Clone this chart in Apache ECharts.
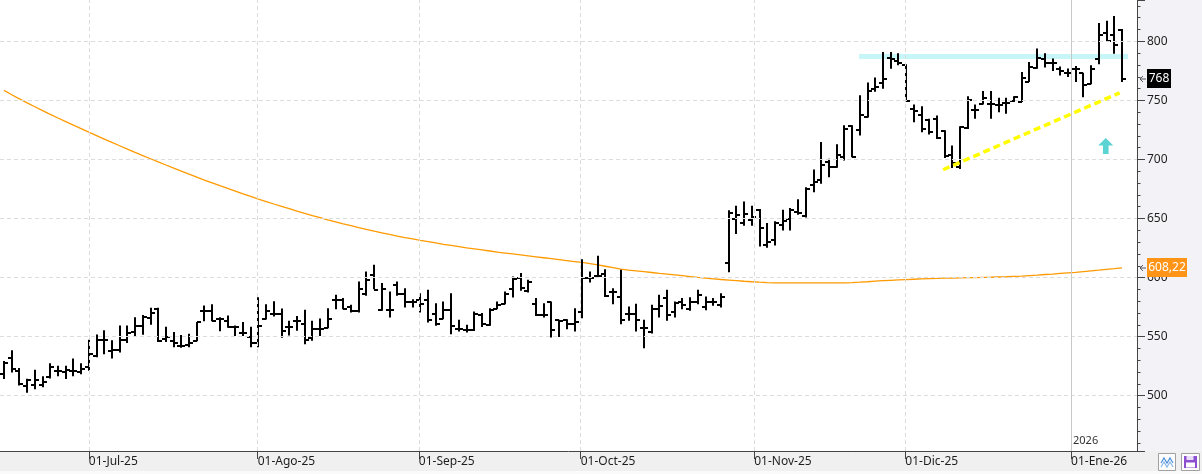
<!DOCTYPE html>
<html>
<head>
<meta charset="utf-8">
<script src="https://cdn.jsdelivr.net/npm/echarts@6.0.0/dist/echarts.min.js"></script>
<style>
  html, body { margin: 0; padding: 0; background: #f0f0f0; }
  #chart { width: 1202px; height: 474px; }
</style>
</head>
<body>
<div id="chart"></div>
<script>
// sesiones (indice de barra) donde caen las marcas de mes del eje X
const monthTicks = [11.0, 32.9, 53.8, 74.8, 97.3, 116.9, 138.4];
const monthLabels = ["01-Jul-25", "01-Ago-25", "01-Sep-25", "01-Oct-25", "01-Nov-25", "01-Dic-25", "01-Ene-26"];
const yearLabel = "2026";

// OHLC por sesion
const open = [
  518, 532, 521, 508, 509, 509, 515.5, 521, 520, 521,
  520, 524, 534, 547, 538, 539, 547, 554, 559, 566,
  573.5, 548, 546, 542.5, 543, 546.5, 572, 572, 565, 563.5,
  558, 553.5, 549.5, 544.5, 565, 569.5, 569, 558.5, 563, 561,
  549, 556.7, 557.6, 580.7, 581.3, 575, 571.4, 586.4, 602.5, 572.3,
  572.3, 593.5, 586.4, 579.3, 580.7, 581.3, 568.9, 565.2, 572.3, 556.7,
  555.3, 555.9, 568, 559.6, 573.7, 577.9, 590.6, 600, 589, 577.9,
  568, 579, 563.8, 563.8, 561, 571, 600, 601, 603, 587.8,
  583.6, 568.9, 569.4, 557.6, 553.9, 573.7, 583, 570.9, 579.3, 573.7,
  579.3, 575.1, 579.3, 576.5, 612, 650, 645.8, 649, 657.6, 628,
  631.7, 644.4, 650, 655.6, 652, 678.4, 683, 698, 693.4, 702.4,
  728.5, 725, 735.9, 759.5, 765, 785.8, 783, 780.2, 742.5, 738,
  733, 734, 724, 703.7, 693.7, 726.3, 741.9, 747, 747, 746,
  748, 749.5, 749, 766, 777.3, 785, 781.6, 776.5, 773, 776.5,
  773, 764, 785, 807, 805, 810
];
const high = [
  529, 538, 523, 514, 521.5, 516, 527, 525, 525, 531,
  527, 547, 551.5, 555, 546.5, 559, 559, 566, 568, 574,
  574, 558, 553.5, 551, 552, 562, 576, 577, 566, 567.5,
  559, 562, 558, 583, 577, 579.5, 573.5, 563, 567, 572.3,
  563, 565, 573.7, 585, 582.2, 576.5, 596.3, 604.8, 610.4, 594.9,
  587.8, 596.3, 590.6, 581.3, 586.4, 589.2, 577.9, 579.3, 586.4, 563.8,
  559.6, 570.9, 569.5, 573.7, 579.3, 587.8, 600.5, 603.4, 597.7, 582.2,
  577.9, 579.3, 563.8, 564.4, 573.7, 615, 604.8, 618, 606.7, 590.6,
  606.2, 575.1, 577.4, 563.8, 576.5, 585, 589.2, 579.3, 582.2, 583,
  589.2, 583.6, 582.2, 586.4, 656.5, 660.4, 664, 660.4, 657.6, 645.8,
  647.2, 657, 658.4, 666, 676, 691, 714.3, 700.2, 712.4, 728.5,
  728.5, 754, 764.8, 769, 790.6, 790.6, 789.5, 780.2, 746.2, 744.7,
  734, 736.8, 724.4, 711.3, 727.7, 753.2, 746.2, 757.5, 757.5, 751.8,
  751.8, 753.2, 773.6, 782.1, 793.5, 789.5, 785, 778.2, 776.5, 778.7,
  773, 779.3, 815, 817, 821, 810
];
const low = [
  514.5, 520, 509, 503, 506, 507.5, 515, 517, 514.5, 517,
  518.5, 521.5, 533, 535.5, 532, 537, 545, 551, 552, 560.5,
  546, 546, 541.5, 541, 541.5, 546.5, 563.5, 563.5, 555, 558,
  551, 551, 541.5, 541.5, 565, 567.5, 549.5, 551.5, 555.5, 544,
  547, 551, 557.6, 573.7, 573.7, 570.9, 570.9, 585, 590.6, 572.3,
  566.6, 585, 575.1, 575.1, 570.9, 562.4, 559.6, 565.2, 552.5, 554.8,
  553.9, 555.3, 558.7, 559.6, 573.7, 577.9, 583.6, 589.2, 587.8, 568,
  566.6, 549.7, 550.2, 556.7, 554.8, 566, 596.3, 600, 584, 577.9,
  561, 563.8, 554.8, 540.6, 553, 566.6, 563.8, 566.6, 573.7, 572.3,
  577.9, 572.8, 576.5, 575.1, 605, 637.4, 644.4, 644.4, 626.7, 625.6,
  627.5, 640.2, 640.2, 653.6, 651.4, 672.7, 679.8, 685.4, 693.4, 699.6,
  702.4, 720.8, 735.9, 757.7, 760.3, 777.3, 780.2, 749.8, 732, 723.5,
  721.5, 717.8, 701.7, 693.2, 692.3, 726.3, 734.8, 747, 734.8, 740.5,
  739.1, 749, 749, 766, 777.3, 778.2, 775.3, 771.6, 770.2, 766,
  753, 764, 781, 800, 790, 766
];
const close = [
  528, 523, 509.5, 513, 513, 512, 524, 521, 522, 521,
  523, 535, 547, 547, 538.5, 547, 553, 559, 567, 570,
  546.5, 549.5, 545, 542.5, 544.5, 562, 572, 563.5, 565, 558.5,
  558, 553.5, 544.5, 559, 572, 569.5, 555, 558.5, 563, 547,
  556.7, 556.7, 565.2, 580.7, 573.7, 571.4, 590.6, 598.3, 589.8, 590.6,
  572.3, 586.4, 579.3, 579.3, 577.9, 563.8, 561, 572.8, 558.7, 556.7,
  555.3, 568.9, 561, 572.3, 576.5, 586.4, 599.1, 591.5, 596.3, 568,
  568, 555.3, 563.3, 561, 562.4, 600, 600, 601, 584, 587.8,
  563.8, 568.9, 564.4, 557.6, 573.7, 575.7, 568, 578.5, 576.5, 579.3,
  585, 579.3, 579.3, 583.6, 655, 653, 654.2, 651.5, 641.6, 630,
  645.8, 648, 657, 654.8, 675, 681.2, 695.4, 693.4, 704, 725.7,
  702.4, 737.8, 758, 761.3, 768, 785, 781.6, 749.8, 741.3, 726,
  723.5, 718, 703, 697, 727.7, 750.4, 741.9, 751.8, 747, 746,
  748, 753, 768.8, 778.7, 785.8, 781.6, 781.6, 774.5, 773, 776.5,
  763, 776.5, 805, 800.5, 797, 768
];

// media movil (linea naranja)
const ma = [
  758.5, 754.8, 751.3, 747.9, 744.6, 741.3, 738.2, 735.1, 732.1, 729.1,
  726.1, 723.1, 720.2, 717.3, 714.4, 711.6, 708.8, 706.0, 703.3, 700.6,
  697.9, 695.3, 692.7, 690.1, 687.6, 685.1, 682.6, 680.2, 677.8, 675.5,
  673.2, 670.9, 668.7, 666.5, 664.4, 662.3, 660.3, 658.3, 656.3, 654.4,
  652.5, 650.7, 648.9, 647.2, 645.5, 643.9, 642.3, 640.8, 639.3, 637.9,
  636.5, 635.2, 633.9, 632.7, 631.5, 630.4, 629.3, 628.2, 627.2, 626.2,
  625.2, 624.3, 623.4, 622.5, 621.6, 620.8, 620.0, 619.2, 618.4, 617.6,
  616.8, 616.0, 615.2, 614.4, 613.6, 612.8, 611.8, 610.7, 609.6, 608.4,
  607.2, 606.4, 605.7, 605.0, 604.3, 603.6, 603.0, 602.3, 601.6, 600.9,
  600.2, 599.6, 599.0, 598.4, 597.9, 597.4, 596.9, 596.5, 596.1, 595.8,
  595.6, 595.5, 595.5, 595.5, 595.5, 595.5, 595.5, 595.5, 595.5, 595.6,
  595.8, 596.1, 596.5, 597.0, 597.4, 597.7, 598.0, 598.3, 598.6, 598.9,
  599.2, 599.3, 599.5, 599.6, 599.8, 599.9, 600.0, 600.2, 600.3, 600.5,
  600.7, 601.0, 601.3, 601.7, 602.1, 602.6, 603.0, 603.5, 604.0, 604.5,
  605.1, 605.7, 606.3, 607.0, 607.6, 608.22
];

// dibujos del analista: soporte (amarillo), resistencia (cian) y flecha
const trendLine = [[121.8, 691.3], [144.7, 756.4]];
const resistanceLine = [[110.9, 787.2], [145.8, 787.2]];
const signalArrow = [[142.9, 711.5]];

const chart = echarts.init(document.getElementById("chart"));

const ohlcData = open.map((o, i) => [i, o, high[i], low[i], close[i]]);
const maData = ma.map((v, i) => [i, v]);

function renderBar(params, api) {
  const i = api.value(0);
  const x = Math.round(api.coord([i, 0])[0]);
  const yo = Math.round(api.coord([i, api.value(1)])[1]);
  const yh = api.coord([i, api.value(2)])[1];
  const yl = api.coord([i, api.value(3)])[1];
  const yc = Math.round(api.coord([i, api.value(4)])[1]);
  const st = { stroke: "#000", lineWidth: 2 };
  return {
    type: "group",
    children: [
      { type: "line", shape: { x1: x, y1: yh - 0.5, x2: x, y2: yl + 0.5 }, style: st },
      { type: "line", shape: { x1: x - 4, y1: yo, x2: x, y2: yo }, style: st },
      { type: "line", shape: { x1: x, y1: yc, x2: x + 4, y2: yc }, style: st }
    ]
  };
}

const font = "Noto Sans";

chart.setOption({
  animation: false,
  backgroundColor: "#f0f0f0",
  grid: {
    left: 0, right: 65, top: 0, bottom: 23,
    show: true, backgroundColor: "#ffffff", borderWidth: 0,
    outerBoundsMode: "none"
  },
  xAxis: {
    type: "value",
    min: -0.52,
    max: 146.95,
    z: 5,
    axisLine: { show: true, onZero: false, lineStyle: { color: "#444", width: 1 } },
    axisTick: { show: true, customValues: monthTicks, length: 8, lineStyle: { color: "#444" } },
    axisLabel: {
      customValues: monthTicks,
      formatter: v => monthLabels[monthTicks.indexOf(v)] || "",
      align: "left",
      margin: 5,
      color: "#1e1e1e",
      fontSize: 12,
      fontFamily: font,
      hideOverlap: false
    },
    splitLine: { show: false }
  },
  yAxis: {
    type: "value",
    position: "right",
    min: 453.2,
    max: 835,
    splitNumber: 8,
    z: 5,
    axisLine: { show: true, onZero: false, lineStyle: { color: "#444", width: 1 } },
    axisTick: { show: true, length: 8, lineStyle: { color: "#444" } },
    minorTick: { show: true, splitNumber: 5, length: 3.5, lineStyle: { color: "#444" } },
    axisLabel: {
      color: "#1e1e1e",
      fontSize: 12,
      fontFamily: font,
      margin: 10,
      showMinLabel: false,
      showMaxLabel: false
    },
    splitLine: {
      show: true,
      showMinLine: false,
      showMaxLine: false,
      lineStyle: { color: "#dcdcdc", type: [4, 3], width: 1 }
    }
  },
  series: [
    {
      // rejilla vertical de meses y separador de año
      type: "line",
      data: [],
      z: 1,
      silent: true,
      markLine: {
        silent: true,
        symbol: "none",
        label: { show: false },
        animation: false,
        data: monthTicks.slice(0, 6).map(v => ({
          xAxis: v,
          lineStyle: { color: "#dcdcdc", type: [4, 3], width: 1 }
        })).concat([{
          xAxis: monthTicks[6],
          lineStyle: { color: "#c8c8c8", type: "solid", width: 1 }
        }])
      }
    },
    {
      type: "line",
      data: resistanceLine,
      z: 2,
      silent: true,
      symbol: "none",
      lineStyle: { color: "#c6f6f8", width: 5 }
    },
    {
      type: "line",
      data: maData,
      z: 3,
      symbol: "none",
      silent: true,
      lineStyle: { color: "#ff9a00", width: 1.3 }
    },
    {
      type: "custom",
      data: ohlcData,
      z: 4,
      renderItem: renderBar,
      encode: { x: 0, y: [1, 2, 3, 4] }
    },
    {
      type: "line",
      data: trendLine,
      z: 6,
      silent: true,
      symbol: "none",
      lineStyle: { color: "#ffff00", width: 3.5, type: [7, 4] }
    },
    {
      type: "scatter",
      data: signalArrow,
      z: 6,
      silent: true,
      symbol: "path://M8,0 L16,8 L11,8 L11,17 L5,17 L5,8 L0,8 Z",
      symbolSize: [15, 16],
      itemStyle: { color: "#33c8c8" }
    }
  ]
});

// etiquetas de ultimo valor en el eje de precios
const px = (x, y) => chart.convertToPixel({ xAxisIndex: 0, yAxisIndex: 0 }, [x, y]);
const lastClose = close[close.length - 1];
const lastMa = ma[ma.length - 1];

function priceTag(value, text, bg, w) {
  const y = Math.round(px(0, value)[1]);
  return [
    {
      type: "polyline", z: 100,
      shape: { points: [[1143, y - 3], [1140, y], [1143, y + 3]] },
      style: { stroke: "#555", lineWidth: 1, fill: null }
    },
    { type: "line", z: 100, shape: { x1: 1140, y1: y, x2: 1146, y2: y }, style: { stroke: "#555", lineWidth: 1 } },
    { type: "rect", z: 100, shape: { x: 1147, y: y - 10, width: w, height: 19 }, style: { fill: bg } },
    {
      type: "text", z: 101, x: 1147 + w / 2, y: y,
      style: { text: text, fill: "#fff", font: "12px " + font, align: "center", verticalAlign: "middle" }
    }
  ];
}

const sepX = Math.round(px(monthTicks[6], 500)[0]);

chart.setOption({
  graphic: [
    { type: "rect", z: 0, shape: { x: 1138, y: 0, width: 64, height: 451 }, style: { fill: "#f3f3f7" } },
    { type: "rect", z: 0, shape: { x: 0, y: 471, width: 1202, height: 3 }, style: { fill: "#fafafa" } },
    {
      type: "text", z: 10, x: sepX + 2, y: 441,
      style: { text: yearLabel, fill: "#333", font: "11px " + font, verticalAlign: "middle" }
    },
    // botones de la esquina
    { type: "rect", z: 10, shape: { x: 1158.5, y: 453.5, width: 17, height: 17 }, style: { fill: "#fdfdfd", stroke: "#a0a0a0" } },
    {
      type: "polyline", z: 11,
      shape: { points: [[1161, 463], [1164, 458], [1167, 463], [1170, 458], [1173, 463]] },
      style: { stroke: "#4a8fd8", lineWidth: 1.2, fill: null }
    },
    {
      type: "polyline", z: 11,
      shape: { points: [[1161, 467], [1164, 462], [1167, 467], [1170, 462], [1173, 467]] },
      style: { stroke: "#8ab8e8", lineWidth: 1.2, fill: null }
    },
    { type: "rect", z: 10, shape: { x: 1181.5, y: 453.5, width: 18, height: 17 }, style: { fill: "#fdfdfd", stroke: "#a0a0a0" } },
    { type: "rect", z: 11, shape: { x: 1184, y: 456, width: 13, height: 12 }, style: { fill: "#8b4fcf" } },
    { type: "rect", z: 12, shape: { x: 1186.5, y: 456, width: 7, height: 4 }, style: { fill: "#e9dcf8" } },
    { type: "rect", z: 12, shape: { x: 1186, y: 462.5, width: 9, height: 5 }, style: { fill: "#ffffff" } }
  ].concat(
    priceTag(lastClose, String(Math.round(lastClose)), "#000000", 24),
    priceTag(lastMa, lastMa.toFixed(2).replace(".", ","), "#ff9416", 40)
  )
});
</script>
</body>
</html>
